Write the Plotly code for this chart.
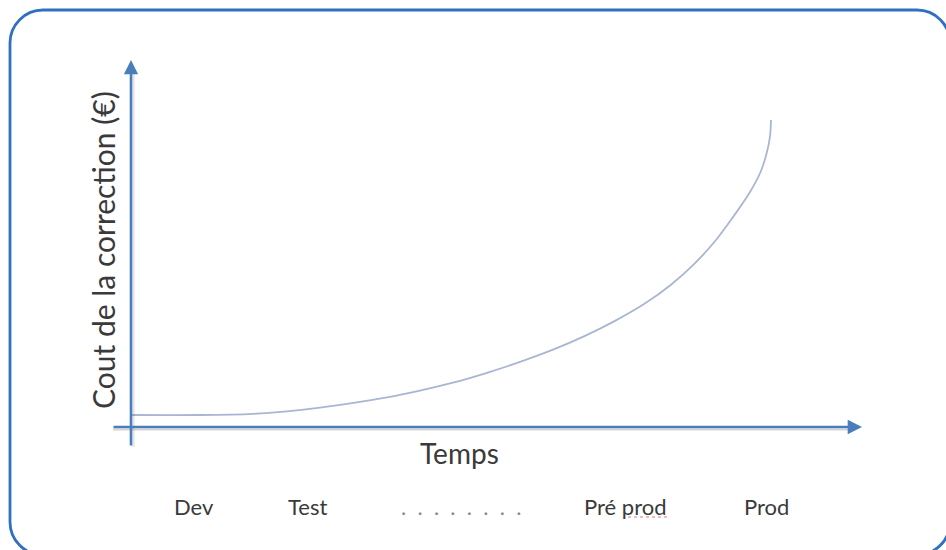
import plotly.graph_objects as go

# ---- data ----
temps = [0, 9.44, 16.69, 21.34, 25.86, 35.02, 39.54, 44.05, 48.70, 53.22, 57.73, 62.11,
         66.21, 70.18, 73.87, 77.16, 80.03, 82.49, 84.68, 86.12, 87.00, 87.42, 87.55]
cout = [3.27, 3.27, 3.60, 4.28, 5.29, 8.09, 9.92, 12.07, 14.77, 17.74, 21.06, 24.82,
        28.91, 33.49, 38.77, 44.66, 50.95, 57.58, 64.03, 69.48, 74.93, 79.29, 83.65]
dots = "\u00a0\u00a0".join(["."] * 8)
phases = ["Dev", "Test", dots, "Pré prod", "Prod"]
phase_t = [8.6, 24.1, 45.1, 67.6, 86.9]
x_title = "Temps"
y_title = "Cout de la correction (€)"

W, H = 946, 550
def PX(x):
    return x / W
def PY(y):
    return 1 - y / H

FONT = "Lato, 'Open Sans', sans-serif"
TXT = "#3a3a3a"
AXC = "#4a7ebb"

fig = go.Figure()
fig.add_trace(go.Scatter(
    x=temps, y=cout, mode="lines",
    line=dict(color="#a9b6d3", width=1.8, shape="spline", smoothing=1.0),
    hoverinfo="skip", showlegend=False,
))

# rounded frame
L, T, R, B, r = 10, 10, 950, 555, 33
k = 0.5523 * r
path = (
    f"M {PX(L+r)} {PY(T)} L {PX(R-r)} {PY(T)} "
    f"C {PX(R-r+k)} {PY(T)} {PX(R)} {PY(T+r-k)} {PX(R)} {PY(T+r)} "
    f"L {PX(R)} {PY(B-r)} "
    f"C {PX(R)} {PY(B-r+k)} {PX(R-r+k)} {PY(B)} {PX(R-r)} {PY(B)} "
    f"L {PX(L+r)} {PY(B)} "
    f"C {PX(L+r-k)} {PY(B)} {PX(L)} {PY(B-r+k)} {PX(L)} {PY(B-r)} "
    f"L {PX(L)} {PY(T+r)} "
    f"C {PX(L)} {PY(T+r-k)} {PX(L+r-k)} {PY(T)} {PX(L+r)} {PY(T)} Z"
)
shapes = [
    dict(type="path", xref="paper", yref="paper", path=path,
         line=dict(color="#3070c0", width=2.8), layer="above"),
    # soft shadows under the axis arrows
    dict(type="line", xref="paper", yref="paper", x0=PX(113), x1=PX(852), y0=PY(429.5), y1=PY(429.5),
         line=dict(color="rgba(60,60,60,0.22)", width=2)),
    dict(type="line", xref="paper", yref="paper", x0=PX(133.5), x1=PX(133.5), y0=PY(447), y1=PY(72),
         line=dict(color="rgba(60,60,60,0.15)", width=2)),
    # spell-check underline under "prod"
    dict(type="line", xref="paper", yref="paper", x0=PX(628), x1=PX(668), y0=PY(517), y1=PY(517),
         line=dict(color="#e07a7a", width=1.2, dash="dot")),
]

annotations = [
    dict(x=PX(131), y=PY(60), xref="paper", yref="paper", ax=0, ay=387, text="",
         showarrow=True, arrowhead=2, arrowsize=1.1, arrowwidth=2.6, arrowcolor=AXC),
    dict(x=PX(862), y=PY(427), xref="paper", yref="paper", ax=-750, ay=0, text="",
         showarrow=True, arrowhead=2, arrowsize=1.1, arrowwidth=2.6, arrowcolor=AXC),
    dict(x=PX(103), y=PY(250), xref="paper", yref="paper", text=y_title, textangle=-90,
         showarrow=False, font=dict(family=FONT, size=30, color=TXT), xanchor="center", yanchor="middle"),
    dict(x=PX(459), y=PY(453), xref="paper", yref="paper", text=x_title,
         showarrow=False, font=dict(family=FONT, size=28, color=TXT), xanchor="center", yanchor="middle"),
]
for name, t in zip(phases, phase_t):
    col = "#8a8a8a" if name == dots else TXT
    annotations.append(dict(x=t, y=PY(506), xref="x", yref="paper", text=name, showarrow=False,
                            font=dict(family=FONT, size=22, color=col), xanchor="center", yanchor="middle"))

fig.update_layout(
    width=W, height=H,
    margin=dict(l=0, r=0, t=0, b=0),
    paper_bgcolor="white", plot_bgcolor="white",
    xaxis=dict(visible=False, range=[0, 100], domain=[131 / W, 862 / W], fixedrange=True),
    yaxis=dict(visible=False, range=[0, 100], domain=[1 - 427 / H, 1 - 60 / H], fixedrange=True),
    shapes=shapes, annotations=annotations, showlegend=False,
)
fig.write_html(
    "out.html",
    config={"displayModeBar": False},
    post_script="document.body.style.margin='0';document.body.style.overflow='hidden';",
)
